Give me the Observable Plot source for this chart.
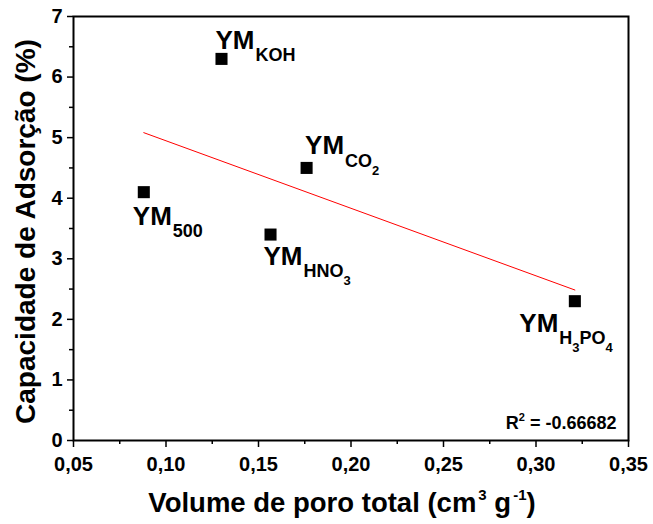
<!DOCTYPE html>
<html>
<head>
<meta charset="utf-8">
<script src="https://cdn.jsdelivr.net/npm/d3@7"></script>
<script src="https://cdn.jsdelivr.net/npm/@observablehq/plot@0.6"></script>
<style>
  html, body { margin: 0; padding: 0; background: #fff; }
  #chart svg { display: block; }
</style>
</head>
<body>
<div id="chart"></div>
<script>
// ---- data ----
const sampleMain = ["YM", "YM", "YM", "YM", "YM"];
const sampleSub = ["500", "KOH", "HNO_3", "CO_2", "H_3PO_4"];
const poreVolume = [0.088, 0.130, 0.1565, 0.176, 0.321];
const adsorption = [4.1, 6.3, 3.4, 4.5, 2.3];
const xTicks = [0.05, 0.10, 0.15, 0.20, 0.25, 0.30, 0.35];
const xTickLabels = ["0,05", "0,10", "0,15", "0,20", "0,25", "0,30", "0,35"];
const xMinorTicks = [0.075, 0.125, 0.175, 0.225, 0.275, 0.325];
const yTicks = [0, 1, 2, 3, 4, 5, 6, 7];
const yMinorTicks = [0.5, 1.5, 2.5, 3.5, 4.5, 5.5, 6.5];
const xTitle = ["Volume de poro total (cm", "3", " g", "-1", ")"];
const yTitle = "Capacidade de Adsorção (%)";
const r2Value = "-0.66682";

// ---- layout (label offsets in px, not data) ----
const labelDx = [-11, -6, -7, -1.5, -55.5];
const labelDy = [32.5, -10, 30, -13.5, 30.7];

const data = poreVolume.map((x, i) => ({x, y: adsorption[i], main: sampleMain[i], sub: sampleSub[i], i}));

const font = "'Liberation Sans', Arial, Helvetica, sans-serif";

const plot = Plot.plot({
  width: 653,
  height: 524,
  marginLeft: 73,
  marginRight: 25,
  marginTop: 16,
  marginBottom: 84,
  style: {fontFamily: font, fontWeight: "bold", background: "#fff", color: "#000", overflow: "visible"},
  x: {domain: [0.05, 0.35]},
  y: {domain: [0, 7]},
  marks: [
    Plot.axisX({ticks: xMinorTicks, tickSize: 4, tickFormat: () => "", strokeWidth: 1.5, label: null}),
    Plot.axisX({ticks: xTicks, tickSize: 7, tickPadding: 9, tickFormat: (d) => xTickLabels[xTicks.indexOf(d)] ?? "", fontSize: 20, strokeWidth: 1.5, label: null}),
    Plot.axisY({ticks: yMinorTicks, tickSize: 4, tickFormat: () => "", strokeWidth: 1.5, label: null}),
    Plot.axisY({ticks: yTicks, tickSize: 6, tickPadding: 5, tickFormat: (d) => String(d), fontSize: 20, strokeWidth: 1.5, label: null}),
    Plot.frame({stroke: "#000", strokeWidth: 2}),
    Plot.linearRegressionY(data, {x: "x", y: "y", stroke: "#ff0000", strokeWidth: 1, ci: 0}),
    Plot.dot(data, {x: "x", y: "y", symbol: "square", r: 6.8, fill: "#000", stroke: "none"}),
    Plot.text(data, {
      x: "x", y: "y", text: "main",
      textAnchor: "start", lineAnchor: "bottom",
      fontSize: 26, fontWeight: "bold", fill: "#000",
      ariaLabel: () => "sample-label"
    }),
    Plot.text(["R"], {
      frameAnchor: "bottom-right", textAnchor: "end", lineAnchor: "bottom",
      dx: -12, dy: -12, fontSize: 18, fontWeight: "bold", ariaLabel: () => "r2-label"
    }),
    Plot.text([yTitle], {
      frameAnchor: "left", textAnchor: "middle", rotate: -90, dx: -47, dy: 3, fontSize: 28, fontWeight: "bold", ariaLabel: () => "y-title"
    }),
    Plot.text([xTitle[0]], {
      frameAnchor: "bottom", textAnchor: "middle", lineAnchor: "bottom", dy: 71, dx: -9, fontSize: 27.5, fontWeight: "bold", ariaLabel: () => "x-title"
    })
  ]
});

const svg = d3.select(plot);

// per-label offsets and subscripts
svg.selectAll('text[aria-label="sample-label"]').each(function(_, k) {
  const el = d3.select(this);
  const t = el.attr("transform") || "";
  el.attr("transform", `${t} translate(${labelDx[k]},${labelDy[k]})`);
  const parts = sampleSub[k].split(/(_\d)/).filter((s) => s);
  let level = 0, first = true;
  for (const p of parts) {
    if (p.startsWith("_")) {
      el.append("tspan").attr("font-size", 13).attr("dy", (first ? 12.5 : 0) + 8).text(p.slice(1));
      level = 1;
    } else {
      el.append("tspan").attr("font-size", 18).attr("dy", first ? 12.5 : (level ? -8 : 0)).attr("dx", first ? 1 : 0).text(p);
      level = 0;
    }
    first = false;
  }
});

// R^2 label
svg.selectAll('text[aria-label="r2-label"]').each(function() {
  const el = d3.select(this);
  el.append("tspan").attr("font-size", 11).attr("dy", -8).text("2");
  el.append("tspan").attr("dy", 8).text(" = " + r2Value);
});

// x title with superscripts
svg.selectAll('text[aria-label="x-title"]').each(function() {
  const el = d3.select(this);
  el.append("tspan").attr("font-size", 15).attr("dy", -12).attr("dx", 2).text(xTitle[1]);
  el.append("tspan").attr("dy", 12).text(xTitle[2]);
  el.append("tspan").attr("font-size", 15).attr("dy", -12).attr("dx", 2).text(xTitle[3]);
  el.append("tspan").attr("dy", 12).text(xTitle[4]);
});

document.getElementById("chart").appendChild(plot);
</script>
</body>
</html>
